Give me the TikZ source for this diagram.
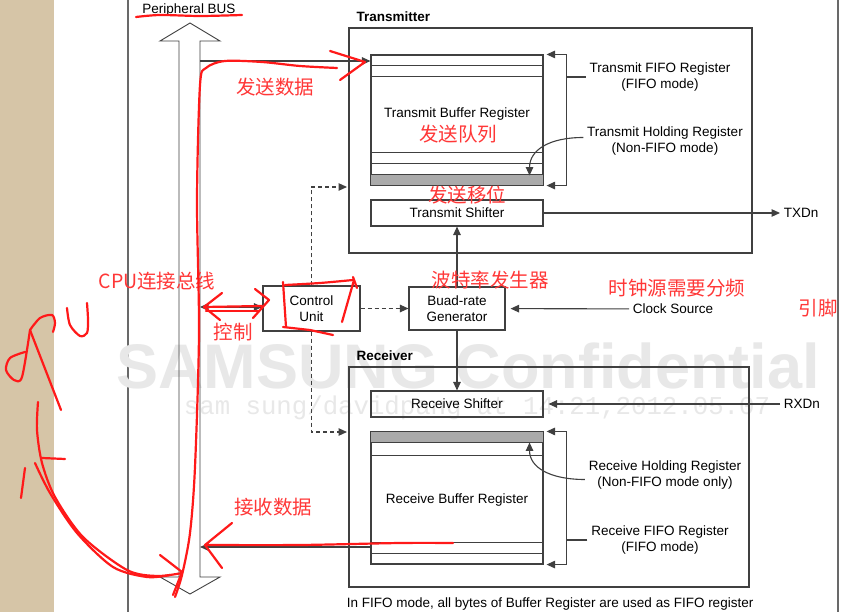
\documentclass[tikz,border=0pt]{standalone}
\usepackage{fontspec}
\setmainfont{Liberation Sans}
\newfontfamily\zhfont{Noto Sans CJK SC}
\newfontfamily\wmfont{Liberation Mono}
\usetikzlibrary{arrows.meta,calc,positioning}
\definecolor{linegray}{RGB}{64,64,64}
\definecolor{framegray}{RGB}{105,105,105}
\definecolor{penred}{RGB}{255,25,25}
\definecolor{zhred}{RGB}{255,55,55}
\definecolor{beige}{RGB}{214,197,167}
\definecolor{holdgray}{RGB}{170,170,170}
\definecolor{wmgray}{RGB}{232,232,232}
\tikzset{
  pen/.style={draw=penred,line width=2.2pt,line cap=round,line join=round},
  zh/.style={text=zhred,font=\zhfont\fontsize{19.5}{20}\selectfont,inner sep=0pt},
  title/.style={font=\fontsize{13.5}{16}\selectfont\bfseries,anchor=west,inner sep=0pt},
  dash line/.style={dash pattern=on 4pt off 3pt}
}

\begin{document}
\begin{tikzpicture}[x=1pt,y=-1pt,font=\fontsize{13.5}{16}\selectfont,line width=1.1pt]
\useasboundingbox (0,0) rectangle (857,612);
\clip (0,0) rectangle (857,612);
\fill[white] (0,0) rectangle (857,612);
\fill[beige] (0,0) rectangle (54,612);
\draw[framegray] (128,0) -- (128,612);
\draw[framegray] (838,0) -- (838,612);

% watermark
\node[text=wmgray,font=\fontsize{63}{63}\selectfont\bfseries] (WM) at (468,366) {SAMSUNG Confidential};
\node[text=wmgray,font=\wmfont\fontsize{25.7}{26}\selectfont] (WMline) at (477,408) {sam sung/davidpang at 14:21,2012.05.07};

% peripheral bus
\draw[linegray,line width=0.9pt] (179,41) -- (160,41) -- (190,23) -- (220,41) -- (200,41) -- (200,577)
  -- (220,577) -- (190,594) -- (160,577) -- (179,577) -- cycle;
\node (PB) at (189,10) {Peripheral BUS};
\coordinate (BT) at (200,61);
\coordinate (BC) at (200,307);
\coordinate (BR) at (200,547);

\begin{scope}[every node/.style={draw=linegray,inner sep=0pt,align=center}]
    \node[minimum width=403pt,minimum height=225pt] (TX) at (550.5,140.5) {};
    \node[minimum width=400pt,minimum height=220pt] (RX) at (549,477) {};
    \node[minimum width=172pt,minimum height=130pt] (TB) at (457,120) {};
    \node[minimum width=172pt,minimum height=26pt] (TS) at (457,213) {Transmit Shifter};
    \node[minimum width=96pt,minimum height=43pt] (BG) at (457,308.5) {Buad-rate\\Generator};
    \node[minimum width=97pt,minimum height=45pt] (CU) at (311.5,308.5) {Control\\Unit};
    \node[minimum width=172pt,minimum height=26pt] (RS) at (457,404) {Receive Shifter};
    \node[minimum width=172pt,minimum height=132pt] (RB) at (457,498) {};
\end{scope}

% register rows
\begin{scope}[linegray]
    \foreach \d in {11,22} \draw ([yshift=-\d pt]TB.north west) -- ([yshift=-\d pt]TB.north east);
    \foreach \d in {22,33} \draw ([yshift=\d pt]TB.south west) -- ([yshift=\d pt]TB.south east);
    \filldraw[fill=holdgray] ([yshift=11pt]TB.south west) rectangle (TB.south east);
    \filldraw[fill=holdgray] (RB.north west) rectangle ([yshift=-11pt]RB.north east);
    \draw ([yshift=-24pt]RB.north west) -- ([yshift=-24pt]RB.north east);
    \foreach \d in {11,22} \draw ([yshift=\d pt]RB.south west) -- ([yshift=\d pt]RB.south east);
\end{scope}

\node (TBtext) at (457,114) {Transmit Buffer Register};
\node (RBtext) at (457,500) {Receive Buffer Register};
\node[title] (TXtitle) at (356,17) {Transmitter};
\node[title] (RXtitle) at (356,356) {Receiver};
\node[align=center] (TF) at (660,77) {Transmit FIFO Register\\(FIFO mode)};
\node[align=center] (TH) at (665,141.5) {Transmit Holding Register\\(Non-FIFO mode)};
\node[align=center] (RH) at (665,475.5) {Receive Holding Register\\(Non-FIFO mode only)};
\node[align=center] (RF) at (660,540) {Receive FIFO Register\\(FIFO mode)};
\node[anchor=west] (TXD) at (780,213) {TXDn};
\node[anchor=west] (RXD) at (780,404) {RXDn};
\node[anchor=west] (CS) at (629,309) {Clock Source};
\node[anchor=north west] (NOTE) at (343,594) {In FIFO mode, all bytes of Buffer Register are used as FIFO register};

\coordinate (TXin) at (347,187);
\coordinate (RXin) at (347,432);
\coordinate (TBR) at ([xshift=23pt]TB.north east);
\coordinate (RBR) at ([xshift=23pt]RB.north east);

\begin{scope}[>={Triangle[length=8.5pt,width=7.5pt]},linegray,
              every edge/.style={draw=linegray}]
    \path [->] (BT) edge (BT -| TB.west);
    \path [<->] (BC) edge (BC -| CU.west);
    \path [->] (BR -| RB.west) edge (BR);
    \path [->,dash line] (CU) edge (BG);
    \draw [->,dash line] (CU.north) |- (TXin);
    \draw [->,dash line] (CU.south) |- (RXin);
    \path [->] (TS) edge (TXD);
    \path [->] (BG) edge (TS);
    \path [->] (BG) edge (RS);
    \path [->,shorten >=5pt] (CS) edge (BG);
    \path [->,shorten >=5pt] (RXD) edge (RS);
    \draw [<->,shorten <=3pt,shorten >=3pt] (TB.north east) -- (TBR) |- (TB.south east);
    \draw [<->,shorten <=3pt,shorten >=3pt] (RB.north east) -- (RBR) |- (RB.south east);
    \draw (TF.west) -- (TF.west -| TBR);
    \draw (RF.west) -- (RF.west -| RBR);
    \draw [->] ([yshift=4pt]TH.west) .. controls +(-35,0) and +(0,-25) .. ([xshift=-14pt,yshift=10pt]TB.south east);
    \draw [->] ([yshift=-4pt]RH.west) .. controls +(-35,0) and +(0,25) .. ([xshift=-14pt,yshift=-11pt]RB.north east);
\end{scope}

% handwritten notes
\node[zh] (n1) at (275,87) {发送数据};
\node[zh] (n2) at (458,134) {发送队列};
\node[zh] (n3) at (467,195) {发送移位};
\node[zh] (n4) at (490,280) {波特率发生器};
\node[zh] (n5) at (677,288) {时钟源需要分频};
\node[zh] (n6) at (818,308) {引脚};
\node[zh] (n7) at (157,281) {CPU连接总线};
\node[zh] (n8) at (233,332) {控制};
\node[zh] (n9) at (273,507) {接收数据};

\begin{scope}[pen]
    \draw plot[smooth] coordinates {(136,17) (160,15) (200,16) (242,15)};
    \draw plot[smooth] coordinates {(337,68) (300,66) (262,62) (225,61) (206,68) (200,85) (197,200)
      (199,333) (195,467) (190,533) (182,575) (175,597)};
    \draw (330,51) -- (365,62) -- (340,80);
    \draw (160,555) -- (182,572) -- (173,595);
    % control
    \draw (222,293) -- (204,307) -- (220,320);
    \draw (204,307) -- (262,306);
    \draw (206,311) -- (258,311);
    \draw (255,289) -- (269,300) -- (253,318);
    \draw plot[smooth] coordinates {(285,285) (320,283) (353,280)};
    \draw (353,277) -- (357,288);
    \draw (354,280) -- (342,322);
    \draw (283,282) -- (286,327);
    \draw (283,327) -- (310,330) -- (333,335);
    % receive
    \draw plot[smooth] coordinates {(453,543) (400,543) (300,545) (205,545)};
    \draw (232,523) -- (205,545) -- (222,568);
    % CPU
    \draw plot[smooth] coordinates {(25,352) (10,358) (6,370) (14,380) (22,377) (30,330)};
    \draw (30,330) -- (61,410);
    \draw plot[smooth] coordinates {(30,330) (40,318) (52,315) (55,323) (53,332)};
    \draw plot[smooth] coordinates {(67,308) (70,325) (80,336) (87,333) (88,320) (87,303)};
    \draw plot[smooth] coordinates {(38,402) (37,430) (42,463) (55,497) (83,537) (127,570) (157,576) (182,573)};
    \draw plot[smooth] coordinates {(35,463) (50,493) (77,533) (113,567) (147,577) (170,575)};
    \draw (42,458) -- (65,459);
    \draw (25,468) -- (21,498);
\end{scope}
\end{tikzpicture}
\end{document}
